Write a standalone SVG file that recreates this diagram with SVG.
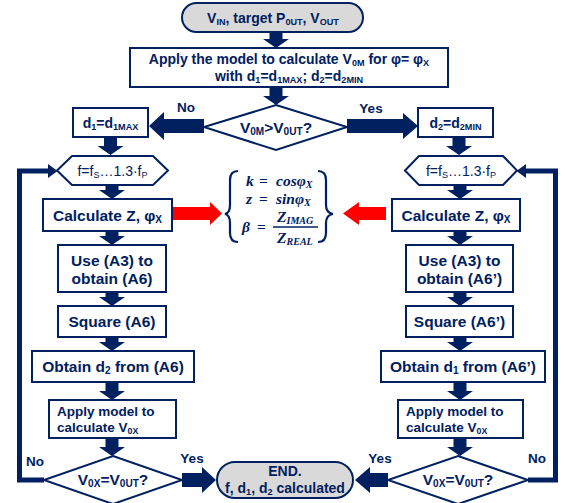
<svg xmlns="http://www.w3.org/2000/svg" width="565" height="503" viewBox="0 0 565 503">
<style>
.bx{fill:#fff;stroke:#002060;stroke-width:2}
.tm{fill:#d9d9d9;stroke:#002060;stroke-width:2}
.ar{fill:#002060}
.ra{fill:#ff0000}
.ln{fill:none;stroke:#002060;stroke-width:5}
.br{fill:none;stroke:#002060;stroke-width:2.2}
text{font-family:"Liberation Sans",Arial,sans-serif;font-weight:bold;fill:#002060;text-anchor:middle}
.t15{font-size:15.5px}
.t14{font-size:14px}
.t13{font-size:13.5px}
.hx{font-weight:normal;font-size:14px}
.lft{text-anchor:start}
.s{font-size:65%;baseline-shift:-22%}
.m{font-family:"Liberation Serif","Times New Roman",serif;font-style:italic;font-weight:bold;font-size:15.5px;text-anchor:start}
.up{font-style:normal}
</style>

<g id="connectors">
  <path class="ar" d="M269.5,32H282.5V39H289L276,48L263,39H269.5Z"/>
  <path class="ar" d="M269.5,87H282.5V96H289L276,105L263,96H269.5Z"/>
  <path class="ar" d="M104,138H117V146H123.5L110.5,155L97.5,146H104Z"/>
  <path class="ar" d="M452.5,138H465.5V146H472L459,155L446,146H452.5Z"/>
  <path class="ar" d="M204,119H164V112L149,126L164,140V133H204Z"/>
  <path class="ar" d="M347,119H403V113L418,126L403,139V133H347Z"/>
  <path class="ar" d="M105.5,185H118.5V190H125L112,199L99,190H105.5Z"/>
  <path class="ar" d="M105.5,231H118.5V236H125L112,245L99,236H105.5Z"/>
  <path class="ar" d="M105.5,292H118.5V297H125L112,306L99,297H105.5Z"/>
  <path class="ar" d="M105.5,337H118.5V342H125L112,351L99,342H105.5Z"/>
  <path class="ar" d="M105.5,382H118.5V391H125L112,400L99,391H105.5Z"/>
  <path class="ar" d="M105.5,438H118.5V447H125L112,456L99,447H105.5Z"/>
  <path class="ar" d="M453.5,185H466.5V190H473L460,199L447,190H453.5Z"/>
  <path class="ar" d="M453.5,231H466.5V236H473L460,245L447,236H453.5Z"/>
  <path class="ar" d="M453.5,292H466.5V297H473L460,306L447,297H453.5Z"/>
  <path class="ar" d="M453.5,337H466.5V342H473L460,351L447,342H453.5Z"/>
  <path class="ar" d="M453.5,382H466.5V391H473L460,400L447,391H453.5Z"/>
  <path class="ar" d="M453.5,438H466.5V447H473L460,456L447,447H453.5Z"/>
  <path class="ar" d="M182,473H202V467L216,480L202,493V487H182Z"/>
  <path class="ar" d="M388,473H370V467L355,480L370,493V487H388Z"/>
  <path class="ra" d="M173,207H210V202L222,213.5L210,225V220H173Z"/>
  <path class="ra" d="M386,207H359V202L343,213.5L359,225V220H386Z"/>
  <polyline class="ln" points="44,480 19.5,480 19.5,171 50,171"/>
  <polygon class="ar" points="48,164 57.5,171 48,178"/>
  <polyline class="ln" points="528,480 555.5,480 555.5,171 525,171"/>
  <polygon class="ar" points="526,164 516.5,171 526,178"/>
  <text class="t13" x="186" y="112">No</text>
  <text class="t13" x="371" y="113">Yes</text>
  <text class="t13" x="35" y="466">No</text>
  <text class="t13" x="192" y="463">Yes</text>
  <text class="t13" x="380" y="463">Yes</text>
  <text class="t13" x="537" y="463">No</text>
</g>

<g id="start">
  <rect class="tm" x="182" y="3" width="181" height="29" rx="14.5"/>
  <text class="t14" x="273" y="23">V<tspan class="s">IN</tspan>, target P<tspan class="s">0UT</tspan>, V<tspan class="s">OUT</tspan></text>
</g>

<g id="model">
  <rect class="bx" x="130" y="48" width="318" height="39"/>
  <text class="t14" x="289" y="64">Apply the model to calculate V<tspan class="s">0M</tspan> for φ= φ<tspan class="s">X</tspan></text>
  <text class="t14" x="289" y="81">with d<tspan class="s">1</tspan>=d<tspan class="s">1MAX</tspan>; d<tspan class="s">2</tspan>=d<tspan class="s">2MIN</tspan></text>
</g>

<g id="decision1">
  <polygon class="bx" points="276,105 347,127 276,150 204,127"/>
  <text class="t15" x="276" y="133">V<tspan class="s">0M</tspan>&gt;V<tspan class="s">0UT</tspan>?</text>
</g>

<g id="d1max">
  <rect class="bx" x="73" y="108" width="75" height="29"/>
  <text class="t14" x="110.5" y="128">d<tspan class="s">1</tspan>=d<tspan class="s">1MAX</tspan></text>
</g>
<g id="d2min">
  <rect class="bx" x="418" y="108" width="75" height="29"/>
  <text class="t14" x="455.5" y="128">d<tspan class="s">2</tspan>=d<tspan class="s">2MIN</tspan></text>
</g>

<g id="loopL">
  <polygon class="bx" points="57,170.5 72,156 153,156 168,170.5 153,185 72,185"/>
  <text class="hx" x="112.5" y="176">f=f<tspan class="s">S</tspan>…1.3·f<tspan class="s">P</tspan></text>
</g>
<g id="loopR">
  <polygon class="bx" points="405,170.5 419,156 503,156 517,170.5 503,185 419,185"/>
  <text class="hx" x="461" y="176">f=f<tspan class="s">S</tspan>…1.3·f<tspan class="s">P</tspan></text>
</g>

<g id="calcL">
  <rect class="bx" x="43" y="199" width="129" height="32"/>
  <text class="t15" x="107.5" y="221">Calculate Z, φ<tspan class="s">X</tspan></text>
</g>
<g id="calcR">
  <rect class="bx" x="392" y="199" width="128" height="32"/>
  <text class="t15" x="456" y="221">Calculate Z, φ<tspan class="s">X</tspan></text>
</g>

<g id="formula">
  <path class="br" d="M238,171Q230,171 230,180V205Q230,213 225,214Q230,215 230,223V233Q230,242 238,242"/>
  <path class="br" d="M318,171Q326,171 326,180V205Q326,213 333,214Q326,215 326,223V233Q326,242 318,242"/>
  <line x1="273" y1="227" x2="318" y2="227" stroke="#002060" stroke-width="1.4"/>
  <text class="m"><tspan x="246" y="186">k</tspan><tspan class="up" x="259" y="186">=</tspan><tspan x="276" y="186">cosφ</tspan><tspan class="s">X</tspan><tspan x="246" y="204">z</tspan><tspan class="up" x="259" y="204">=</tspan><tspan x="276" y="204">sinφ</tspan><tspan class="s">X</tspan><tspan x="242" y="232">β</tspan><tspan class="up" x="257" y="232">=</tspan><tspan x="277" y="222">Z</tspan><tspan class="s">IMAG</tspan><tspan x="277" y="243">Z</tspan><tspan class="s">REAL</tspan></text>
</g>

<g id="useL">
  <rect class="bx" x="58" y="245" width="108" height="47"/>
  <text class="t15" x="112" y="266">Use (A3) to</text>
  <text class="t15" x="112" y="284">obtain (A6)</text>
</g>
<g id="useR">
  <rect class="bx" x="406" y="245" width="107" height="47"/>
  <text class="t15" x="459.5" y="266">Use (A3) to</text>
  <text class="t15" x="459.5" y="284">obtain (A6’)</text>
</g>

<g id="squareL">
  <rect class="bx" x="58" y="306" width="108" height="31"/>
  <text class="t15" x="112" y="327">Square (A6)</text>
</g>
<g id="squareR">
  <rect class="bx" x="406" y="306" width="107" height="31"/>
  <text class="t15" x="459.5" y="327">Square (A6’)</text>
</g>

<g id="obtainL">
  <rect class="bx" x="32" y="351" width="162" height="31"/>
  <text class="t15" x="113" y="372">Obtain d<tspan class="s">2</tspan> from (A6)</text>
</g>
<g id="obtainR">
  <rect class="bx" x="381" y="351" width="164" height="31"/>
  <text class="t15" x="463" y="372">Obtain d<tspan class="s">1</tspan> from (A6’)</text>
</g>

<g id="applyL">
  <rect class="bx" x="49" y="400" width="127" height="38"/>
  <text class="t13 lft" x="57" y="416">Apply model to</text>
  <text class="t13 lft" x="57" y="432">calculate V<tspan class="s">0X</tspan></text>
</g>
<g id="applyR">
  <rect class="bx" x="398" y="400" width="125" height="38"/>
  <text class="t13 lft" x="406" y="416">Apply model to</text>
  <text class="t13 lft" x="406" y="432">calculate V<tspan class="s">0X</tspan></text>
</g>

<g id="decisionL">
  <polygon class="bx" points="113,456 182,480 113,504 44,480"/>
  <text class="t15" x="113" y="485">V<tspan class="s">0X</tspan>=V<tspan class="s">0UT</tspan>?</text>
</g>
<g id="decisionR">
  <polygon class="bx" points="458,456 528,480 458,504 388,480"/>
  <text class="t15" x="458" y="485">V<tspan class="s">0X</tspan>=V<tspan class="s">0UT</tspan>?</text>
</g>

<g id="end">
  <rect class="tm" x="217" y="462" width="136" height="36" rx="18"/>
  <text class="t14" x="285" y="476">END.</text>
  <text class="t14" x="285" y="493">f, d<tspan class="s">1</tspan>, d<tspan class="s">2</tspan> calculated</text>
</g>
</svg>
